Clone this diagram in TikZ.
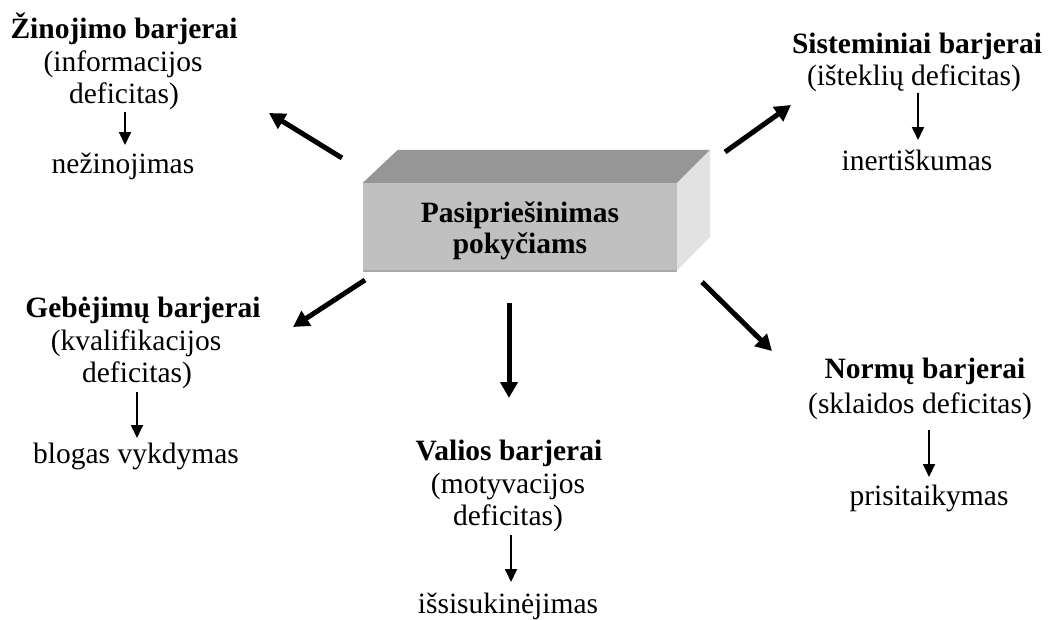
\documentclass[tikz,border=0pt]{standalone}
\usepackage{fontspec}
\setmainfont{Liberation Serif}
\usetikzlibrary{arrows.meta}
\definecolor{topgray}{HTML}{969696}
\definecolor{frontgray}{HTML}{C0C0C0}
\definecolor{sidegray}{HTML}{E2E2E2}
\definecolor{edgegray}{HTML}{A8A8A8}
\begin{document}
\begin{tikzpicture}[x=1pt,y=-1pt,
  txt/.style={anchor=base, inner sep=0pt, font=\fontsize{29.5}{32}\selectfont},
  ttl/.style={anchor=base, inner sep=0pt, font=\fontsize{29.5}{32}\selectfont\bfseries},
  bigarr/.style={line width=5pt, -{Triangle[length=16pt,width=17pt]}},
  smarr/.style={line width=1.8pt, -{Triangle[length=13pt,width=12pt]}}]
\useasboundingbox (0,0) rectangle (1055,619);

% central 3D box
\node[fill=frontgray, minimum width=314pt, minimum height=87pt, inner sep=0pt] (box) at (520,226.5) {};
\fill[topgray] (box.north west) -- ++(35,-33) -- ([shift={(33,-33)}]box.north east) -- (box.north east) -- cycle;
\fill[sidegray] (box.north east) -- ++(33,-33) -- ++(0,87) -- (box.south east) -- cycle;
\draw[edgegray, line width=1.5pt] ([yshift=-1pt]box.south west) -- ([yshift=-1pt]box.south east);
\node[ttl] (p1) at (520,222) {Pasipriešinimas};
\node[ttl] (p2) at (520,253) {pokyčiams};

% Žinojimo
\node[ttl] (z1) at (124,38) {Žinojimo barjerai};
\node[txt] (z2) at (123,71) {(informacijos};
\node[txt] (z3) at (124,103) {deficitas)};
\node[txt] (z4) at (123,173) {nežinojimas};
\coordinate (zA) at (125,112); \coordinate (zB) at (125,145);
\draw[smarr] (zA) -- (zB);

% Sisteminiai
\node[ttl] (s1) at (917,53) {Sisteminiai barjerai};
\node[txt] (s2) at (914,85) {(išteklių deficitas)};
\node[txt] (s3) at (917,170) {inertiškumas};
\coordinate (sA) at (918,93); \coordinate (sB) at (918,140);
\draw[smarr] (sA) -- (sB);

% Gebėjimų
\node[ttl] (g1) at (143,317) {Gebėjimų barjerai};
\node[txt] (g2) at (136,350) {(kvalifikacijos};
\node[txt] (g3) at (137,382) {deficitas)};
\node[txt] (g4) at (136,463) {blogas vykdymas};
\coordinate (gA) at (137,392); \coordinate (gB) at (137,438);
\draw[smarr] (gA) -- (gB);

% Valios
\node[ttl] (v1) at (509,460) {Valios barjerai};
\node[txt] (v2) at (508,493) {(motyvacijos};
\node[txt] (v3) at (508,525) {deficitas)};
\node[txt] (v4) at (508,613) {išsisukinėjimas};
\coordinate (vA) at (511,535); \coordinate (vB) at (511,582);
\draw[smarr] (vA) -- (vB);

% Normų
\node[ttl] (n1) at (925,378) {Normų barjerai};
\node[txt] (n2) at (920,413) {(sklaidos deficitas)};
\node[txt] (n3) at (929,505) {prisitaikymas};
\coordinate (nA) at (929,430); \coordinate (nB) at (929,477);
\draw[smarr] (nA) -- (nB);

% thick arrows from the box
\coordinate (a1t) at (342,158); \coordinate (a1h) at (269,113);
\coordinate (a2t) at (725,152); \coordinate (a2h) at (791,105);
\coordinate (a3t) at (365,280); \coordinate (a3h) at (293,327);
\coordinate (a4t) at (702,282); \coordinate (a4h) at (772,351);
\coordinate (a5t) at (509,303); \coordinate (a5h) at (509,398);
\draw[bigarr] (a1t) -- (a1h);
\draw[bigarr] (a2t) -- (a2h);
\draw[bigarr] (a3t) -- (a3h);
\draw[bigarr] (a4t) -- (a4h);
\draw[bigarr] (a5t) -- (a5h);
\end{tikzpicture}
\end{document}
